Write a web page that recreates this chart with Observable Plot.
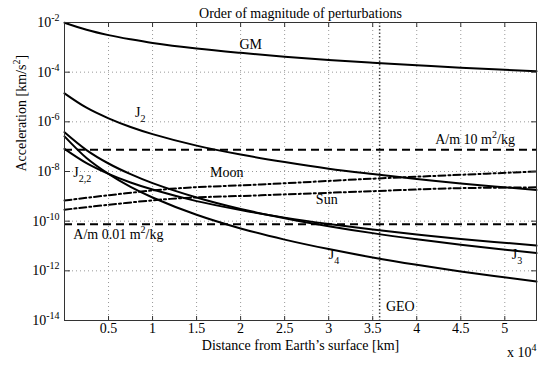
<!DOCTYPE html>
<html><head><meta charset="utf-8">
<script src="https://cdn.jsdelivr.net/npm/d3@7"></script>
<script src="https://cdn.jsdelivr.net/npm/@observablehq/plot@0.6"></script>
<style>body{margin:0;background:#fff}</style>
</head><body><div id="chart"></div>
<script>
// Altitude above Earth's surface [km]
const altitude = [0, 2500, 5000, 7500, 10000, 15000, 20000, 25000, 30000, 35000, 40000, 45000, 53600];
// Accelerations [km/s^2]
const accGM  = [9.8e-3, 5.1e-3, 3.1e-3, 2.1e-3, 1.5e-3, 9.0e-4, 6.0e-4, 4.2e-4, 3.1e-4, 2.4e-4, 1.9e-4, 1.5e-4, 1.1e-4];
const accJ2  = [1.4e-5, 3.7e-6, 1.38e-6, 6.2e-7, 3.2e-7, 1.1e-7, 4.8e-8, 2.4e-8, 1.3e-8, 7.9e-9, 5.0e-9, 3.3e-9, 1.8e-9];
const accJ22 = [8.1e-8, 2.16e-8, 8.0e-9, 3.6e-9, 1.87e-9, 6.4e-10, 2.8e-10, 1.39e-10, 7.7e-11, 4.6e-11, 2.9e-11, 1.93e-11, 1.04e-11];
const accJ3  = [3.8e-7, 7.3e-8, 2.1e-8, 7.8e-9, 3.4e-9, 9.0e-10, 3.1e-10, 1.32e-10, 6.3e-11, 3.3e-11, 1.87e-11, 1.12e-11, 5.2e-12];
const accJ4  = [2.6e-7, 3.5e-8, 8.0e-9, 2.4e-9, 9.0e-10, 1.81e-10, 5.1e-11, 1.81e-11, 7.5e-12, 3.45e-12, 1.74e-12, 9.4e-13, 3.7e-13];
const thirdBodyAltitude = [0, 12000, 22300, 34800, 43900, 53600];
const accMoon = [6.8e-10, 2.0e-9, 3.0e-9, 5.1e-9, 7.1e-9, 1.0e-8];
const accSun  = [2.9e-10, 7.9e-10, 1.1e-9, 1.6e-9, 2.1e-9, 2.3e-9];
const srpLevels = [7.5e-8, 7.5e-11];
const geoAltitude = 35786;
const xTicks = [5000, 10000, 15000, 20000, 25000, 30000, 35000, 40000, 45000, 50000];
const yTicks = [1e-2, 1e-4, 1e-6, 1e-8, 1e-10, 1e-12, 1e-14];

const centeredLabels = [
  {text: "GM", x: 21150, y: 1.3e-3},
  {text: "Moon", x: 18430, y: 9.3e-9},
  {text: "Sun", x: 29780, y: 7.4e-10}
];
const leftLabels = [
  {text: "J_{2}", x: 8000, y: 2.3e-6},
  {text: "J_{2,2}", x: 1000, y: 9.5e-9},
  {text: "J_{4}", x: 30000, y: 4.6e-12},
  {text: "J_{3}", x: 50800, y: 4.6e-12},
  {text: "GEO", x: 36500, y: 3.8e-14},
  {text: "A/m 10 m^{2}/kg", x: 42100, y: 1.9e-7},
  {text: "A/m 0.01 m^{2}/kg", x: 1000, y: 3.0e-11}
];

const rows = (xs, ys) => xs.map((x, i) => ({x, y: ys[i]}));
const solid = [accGM, accJ2, accJ22, accJ3, accJ4];

const plot = Plot.plot({
  width: 542, height: 367,
  marginLeft: 64, marginRight: 6, marginTop: 22, marginBottom: 47,
  style: {fontFamily: "Liberation Serif, Times New Roman, serif", fontSize: "14px", background: "white", color: "black"},
  x: {domain: [0, 53600]},
  y: {type: "log", domain: [1e-14, 1e-2]},
  marks: [
    Plot.gridX(xTicks, {stroke: "#999", strokeOpacity: 1, strokeDasharray: "1,3"}),
    Plot.gridY(yTicks, {stroke: "#999", strokeOpacity: 1, strokeDasharray: "1,3"}),
    Plot.ruleX([geoAltitude], {stroke: "#444", strokeWidth: 1.5, strokeDasharray: "1.5,2"}),
    Plot.ruleY(srpLevels, {stroke: "black", strokeWidth: 1.8, strokeDasharray: "8,5"}),
    ...solid.map(ys => Plot.line(rows(altitude, ys), {x: "x", y: "y", stroke: "black", strokeWidth: 2, curve: "catmull-rom"})),
    Plot.line(rows(thirdBodyAltitude, accMoon), {x: "x", y: "y", stroke: "black", strokeWidth: 2, strokeDasharray: "7,3,2,3", curve: "catmull-rom"}),
    Plot.line(rows(thirdBodyAltitude, accSun), {x: "x", y: "y", stroke: "black", strokeWidth: 2, strokeDasharray: "7,3,2,3", curve: "catmull-rom"}),
    Plot.frame({stroke: "#333"}),
    // inward ticks
    Plot.axisX(xTicks, {anchor: "top", frameAnchor: "bottom", tickSize: 5, fill: "none", label: null, stroke: "#333"}),
    Plot.axisX(xTicks, {anchor: "bottom", frameAnchor: "top", tickSize: 5, fill: "none", label: null, stroke: "#333"}),
    Plot.axisY(yTicks, {anchor: "right", frameAnchor: "left", tickSize: 5, fill: "none", label: null, stroke: "#333"}),
    Plot.axisY(yTicks, {anchor: "left", frameAnchor: "right", tickSize: 5, fill: "none", label: null, stroke: "#333"}),
    // tick labels
    Plot.axisX(xTicks, {anchor: "bottom", tickSize: 0, tickPadding: 3, label: null, tickFormat: d => String(d / 1e4)}),
    Plot.axisY(yTicks, {anchor: "left", tickSize: 0, tickPadding: 5, label: null, tickFormat: d => "10^{" + Math.round(Math.log10(d)) + "}"}),
    // curve labels
    Plot.text(centeredLabels, {x: "x", y: "y", text: "text", textAnchor: "middle", fill: "black"}),
    Plot.text(leftLabels, {x: "x", y: "y", text: "text", textAnchor: "start", fill: "black"}),
    Plot.text(["Order of magnitude of perturbations"], {frameAnchor: "top", dy: -14, fill: "black"}),
    Plot.text(["Distance from Earth\u2019s surface [km]"], {frameAnchor: "bottom", dy: 29, fill: "black"}),
    Plot.text(["x 10^{4}"], {frameAnchor: "bottom-right", dy: 36, textAnchor: "end", fill: "black"}),
    Plot.text(["Acceleration [km/s^{2}]"], {frameAnchor: "left", dx: -43, rotate: -90, fill: "black"})
  ]
});

// convert _{..} and ^{..} into sub/superscript tspans
function rich(el) {
  const s = el.textContent;
  if (!/[_^]\{/.test(s)) return;
  while (el.firstChild) el.removeChild(el.firstChild);
  const re = /([_^])\{([^}]*)\}/g;
  let last = 0, m, shift = 0;
  const add = (t, dy, small) => {
    const ts = document.createElementNS("http://www.w3.org/2000/svg", "tspan");
    ts.textContent = t;
    if (dy) ts.setAttribute("dy", dy);
    if (small) ts.setAttribute("font-size", "10px");
    el.appendChild(ts);
  };
  while ((m = re.exec(s))) {
    if (m.index > last) { add(s.slice(last, m.index), -shift); shift = 0; }
    const d = m[1] === "^" ? -6 : 5;
    add(m[2], d - shift, true);
    shift = d;
    last = re.lastIndex;
  }
  if (last < s.length) add(s.slice(last), -shift);
}
plot.querySelectorAll("text").forEach(rich);
document.getElementById("chart").appendChild(plot);
</script>
</body></html>
